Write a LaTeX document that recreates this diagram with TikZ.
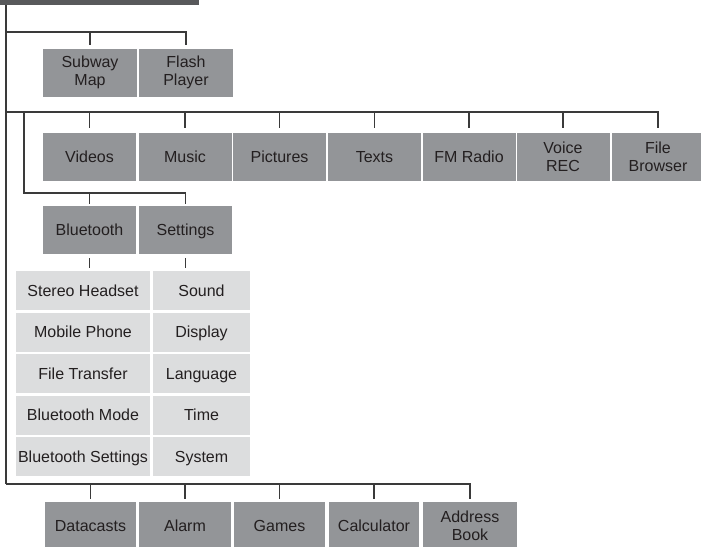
\documentclass[tikz,border=0pt]{standalone}
\usepackage{fontspec}
\setmainfont{Liberation Sans}
\definecolor{boxdark}{HTML}{939598}
\definecolor{boxlight}{HTML}{DCDDDE}
\definecolor{bardark}{HTML}{58595B}
\definecolor{txt}{HTML}{231F20}
\definecolor{lncol}{HTML}{3A3A3A}
\begin{document}
\begin{tikzpicture}[x=1pt,y=-1pt,
  dbox/.style={fill=boxdark, inner sep=0pt, minimum height=48pt, minimum width=93pt,
    text=txt, align=center, font=\fontsize{16}{18}\selectfont},
  one/.style={text height=12.5pt, text depth=1pt},
  lbox/.style={fill=boxlight, inner sep=0pt, minimum height=39pt, one,
    text=txt, align=center, font=\fontsize{16}{18}\selectfont},
  ln/.style={draw=lncol, line width=1.1pt}]
\useasboundingbox (0,0) rectangle (701,546);
\clip (0,0) rectangle (701,546);
% top bar
\node[fill=bardark, minimum width=199pt, minimum height=5pt, inner sep=0pt, anchor=north west] (bar) at (0,0) {};
% group 1
\node[dbox, minimum width=94pt] (subway) at (90,72.5) {Subway\\Map};
\node[dbox, minimum width=94pt] (flash) at (186,72.5) {Flash\\Player};
% group 2
\node[dbox, one] (videos) at (89.5,156.5) {Videos};
\node[dbox, one] (music) at (185,156.5) {Music};
\node[dbox, one] (pictures) at (279.5,156.5) {Pictures};
\node[dbox, one] (texts) at (374.5,156.5) {Texts};
\node[dbox, one] (fm) at (469,156.5) {FM Radio};
\node[dbox] (voice) at (563,156.5) {Voice\\REC};
\node[dbox] (filebr) at (658,156.5) {File\\Browser};
% group 3
\node[dbox, one] (bt) at (89.5,230) {Bluetooth};
\node[dbox, one] (settings) at (185.5,230) {Settings};
% sub lists
\foreach \n/\t [count=\i from 0] in {stereo/Stereo Headset, mobile/Mobile Phone, transfer/File Transfer, btmode/Bluetooth Mode, btset/Bluetooth Settings}
  \node[lbox, minimum width=134pt] (\n) at (83,290.5+41.5*\i) {\t};
\foreach \n/\t [count=\i from 0] in {sound/Sound, display/Display, language/Language, time/Time, system/System}
  \node[lbox, minimum width=97pt] (\n) at (201.5,290.5+41.5*\i) {\t};
% bottom group
\node[dbox, one, minimum width=91pt] (datacasts) at (90.5,526) {Datacasts};
\node[dbox, one, minimum width=92pt] (alarm) at (185,526) {Alarm};
\node[dbox, one, minimum width=91pt] (games) at (279.5,526) {Games};
\node[dbox, one, minimum width=90pt] (calc) at (374,526) {Calculator};
\node[dbox, minimum width=94pt] (addr) at (470,526) {Address\\Book};
% hubs
\coordinate (h1) at (6,32);
\coordinate (h2) at (6,112);
\coordinate (h2b) at (24,112);
\coordinate (h3) at (24,193);
\coordinate (h4) at (6,484);
% spine
\draw[ln] (bar.south west -| h4) -- (h4);
% group 1 connectors
\draw[ln] (h1) -| ([yshift=3pt]flash.north);
\draw[ln] (subway.north |- h1) -- ([yshift=3pt]subway.north);
% group 2 connectors
\draw[ln] (h2) -| ([yshift=4pt]filebr.north);
\foreach \n in {videos,music,pictures,texts,fm,voice}
  \draw[ln] (\n.north |- h2) -- ([yshift=4pt]\n.north);
% group 3 connectors
\draw[ln] (h2b) -- (h3) -| ([yshift=1.5pt]settings.north);
\draw[ln] (bt.north |- h3) -- ([yshift=1.5pt]bt.north);
\draw[ln] ([yshift=-4pt]bt.south) -- ([yshift=-14pt]bt.south);
\draw[ln] ([yshift=-4pt]settings.south) -- ([yshift=-14pt]settings.south);
% bottom connectors
\draw[ln] (h4) -| ([yshift=3pt]addr.north);
\foreach \n in {datacasts,alarm,games,calc}
  \draw[ln] (\n.north |- h4) -- ([yshift=3pt]\n.north);
\end{tikzpicture}
\end{document}
